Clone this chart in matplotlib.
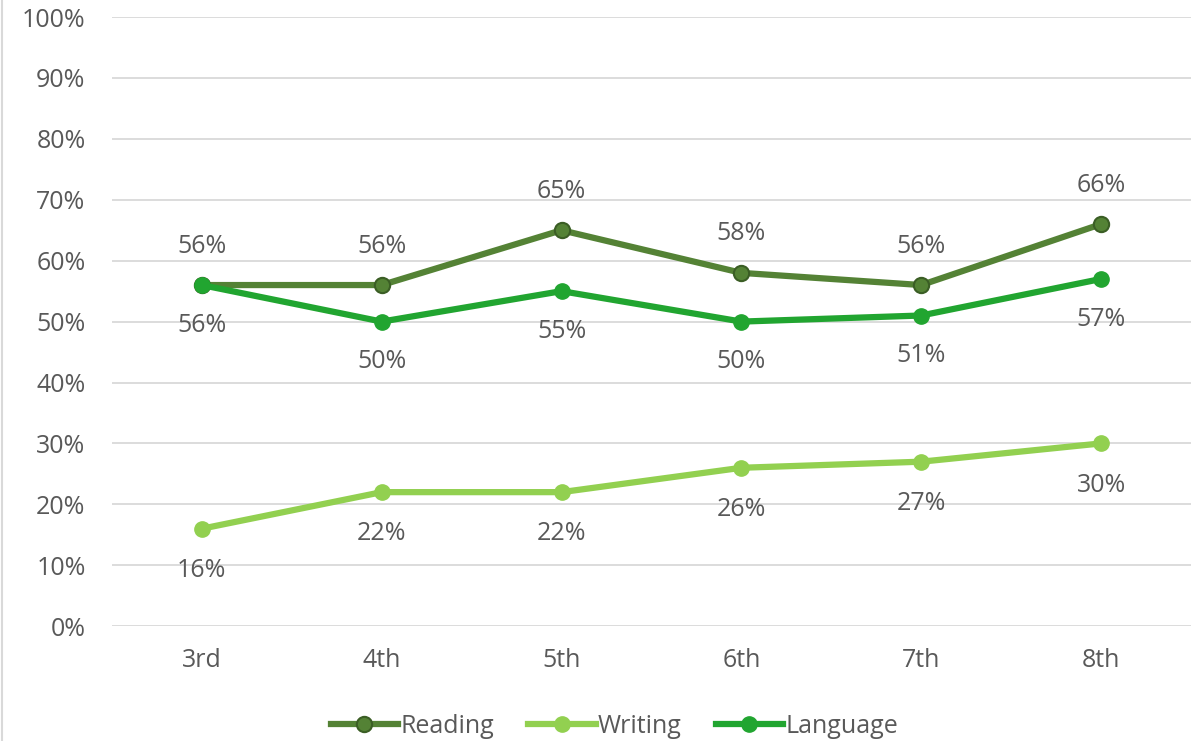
import matplotlib.pyplot as plt
from matplotlib.lines import Line2D
from matplotlib.ticker import PercentFormatter

grades = ["3rd", "4th", "5th", "6th", "7th", "8th"]
reading = [56, 56, 65, 58, 56, 66]
writing = [16, 22, 22, 26, 27, 30]
language = [56, 50, 55, 50, 51, 57]

plt.rcParams['font.family'] = ['Open Sans', 'DejaVu Sans']
txt = "#595959"
fs = 18

fig = plt.figure(figsize=(11.91, 7.41), dpi=100)
ax = fig.add_axes([0.094, 0.155, 0.906, 0.822])

x = range(len(grades))
ax.plot(x, reading, color="#548235", lw=4.5, marker="o", ms=11,
        mfc="#548235", mec="#3b5e25", mew=1.5, label="Reading", zorder=3)
ax.plot(x, writing, color="#92D050", lw=4.5, marker="o", ms=11,
        mfc="#92D050", mec="#92D050", label="Writing", zorder=3)
ax.plot(x, language, color="#21A530", lw=4.5, marker="o", ms=11,
        mfc="#21A530", mec="#21A530", label="Language", zorder=4)

for i in x:
    ax.annotate(f"{reading[i]}%", (i, reading[i]), xytext=(0, 28),
                textcoords="offset points", ha="center", va="center",
                fontsize=fs, color=txt)
    ax.annotate(f"{writing[i]}%", (i, writing[i]), xytext=(0, -30),
                textcoords="offset points", ha="center", va="center",
                fontsize=fs, color=txt)
    ax.annotate(f"{language[i]}%", (i, language[i]), xytext=(0, -29),
                textcoords="offset points", ha="center", va="center",
                fontsize=fs, color=txt)

ax.set_xlim(-0.5, len(grades) - 0.5)
ax.set_ylim(0, 100)
ax.set_yticks(range(0, 101, 10))
ax.yaxis.set_major_formatter(PercentFormatter(decimals=0))
ax.set_xticks(list(x))
ax.set_xticklabels(grades)
ax.tick_params(length=0, labelsize=fs, colors=txt)
ax.tick_params(axis="y", pad=19)
ax.tick_params(axis="x", pad=16)
ax.grid(axis="y", color="#d9d9d9", lw=1.3)
ax.set_axisbelow(True)
for s in ax.spines.values():
    s.set_visible(False)

fig.legend(loc="lower center", ncol=3, bbox_to_anchor=(0.516, -0.028),
           frameon=False, fontsize=fs, labelcolor=txt, handlelength=2.7,
           handletextpad=0.1, columnspacing=1.35)

fig.add_artist(Line2D([0.002, 0.002], [0, 1], color="#d9d9d9", lw=1.5))

fig.savefig("out.png", dpi=100)
